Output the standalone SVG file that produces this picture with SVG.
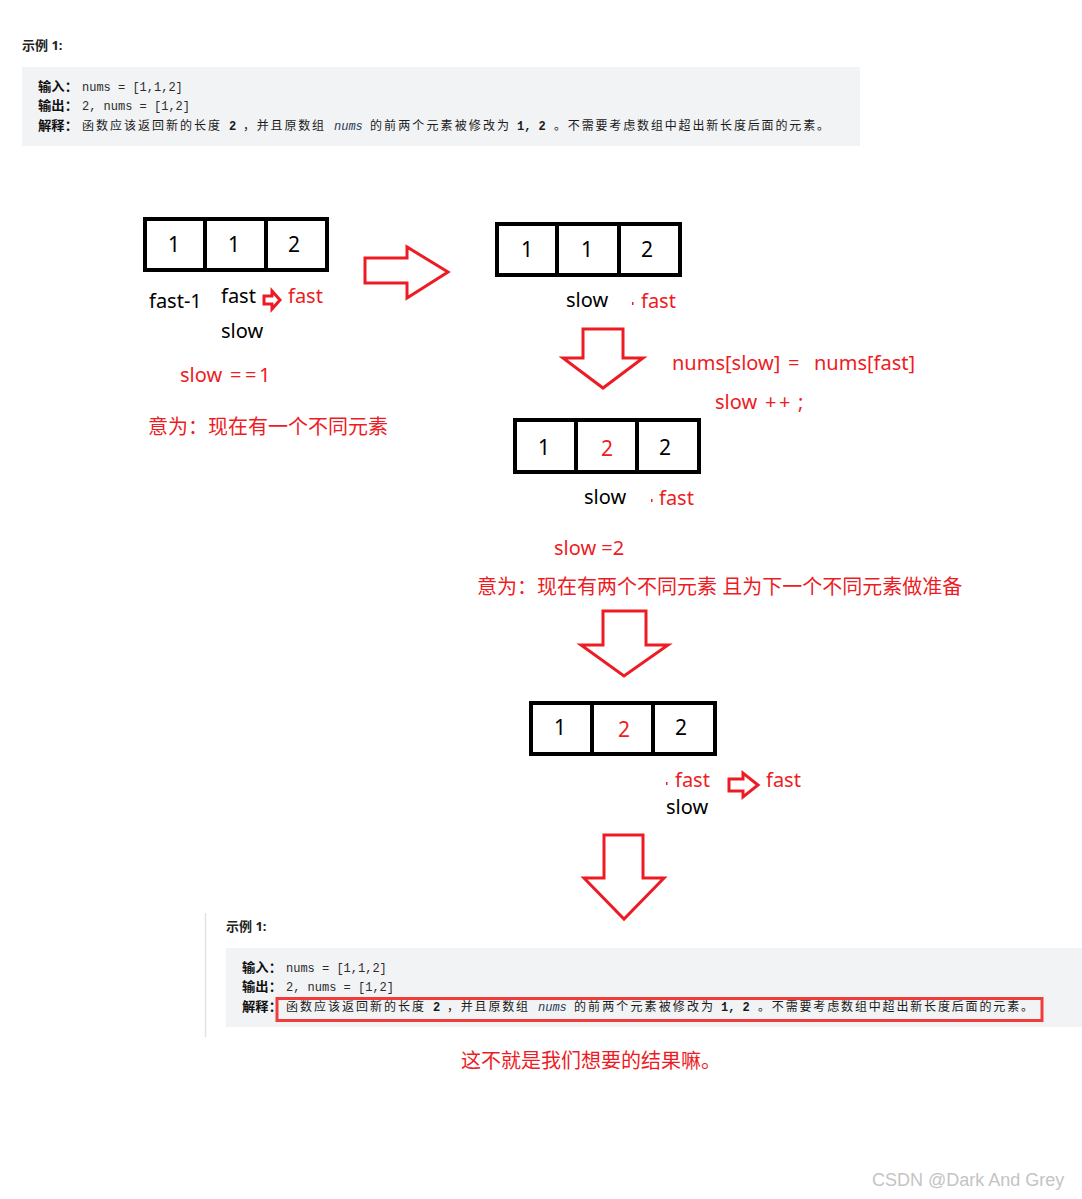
<svg xmlns="http://www.w3.org/2000/svg" width="1082" height="1199" viewBox="0 0 1082 1199">
<style>
.bg{fill:#ffffff}
.box{fill:#f2f3f5}
.hd{font-family:"Noto Sans","Noto Sans CJK SC",sans-serif;font-size:13px;font-weight:bold;fill:#222}
.lb{font-family:"Noto Sans CJK SC",sans-serif;font-size:13px;font-weight:bold;fill:#111}
.cj{font-family:"Noto Sans CJK SC",sans-serif;font-size:12px;fill:#1a1a1a}
.mo{font-family:"Liberation Mono","DejaVu Sans Mono",monospace;font-size:12px;fill:#2b2b2b}
.it{font-family:"Liberation Mono","DejaVu Sans Mono",monospace;font-size:12px;font-style:italic;fill:#263a5a}
.mb{font-family:"Liberation Mono","DejaVu Sans Mono",monospace;font-size:12px;font-weight:bold;fill:#1a1a1a}
.cell{fill:#ffffff;stroke:#000;stroke-width:4}
.div{stroke:#000;stroke-width:4}
.n{font-family:"Noto Sans",sans-serif;font-size:21px;fill:#000;text-anchor:middle}
.nr{font-family:"Noto Sans",sans-serif;font-size:21px;fill:#ed1c24;text-anchor:middle}
.t{font-family:"Noto Sans","Noto Sans CJK SC",sans-serif;font-size:20px;fill:#000}
.r{font-family:"Noto Sans","Noto Sans CJK SC",sans-serif;font-size:20px;fill:#ed1c24}
.arr{fill:#ffffff;stroke:#ed1c24;stroke-width:3;stroke-linejoin:miter}
.hl{fill:none;stroke:#f23c3c;stroke-width:3}
.wm{font-family:"Liberation Sans",Arial,sans-serif;font-size:18px;fill:#c4c4c4}
</style>
<defs>
<g id="example">
<text class="hd" x="0" y="0">示例 1:</text>
<text class="lb" x="16" y="41" textLength="40" lengthAdjust="spacingAndGlyphs">输入：</text>
<text class="mo" x="60" y="41">nums = [1,1,2]</text>
<text class="lb" x="16" y="60" textLength="40" lengthAdjust="spacingAndGlyphs">输出：</text>
<text class="mo" x="60" y="60">2, nums = [1,2]</text>
<text class="lb" x="16" y="80" textLength="40" lengthAdjust="spacingAndGlyphs">解释：</text>
<text class="cj" x="60" y="80" textLength="138" lengthAdjust="spacing">函数应该返回新的长度</text>
<text class="mb" x="207" y="80">2</text>
<text class="cj" x="221" y="80" textLength="81" lengthAdjust="spacing">，并且原数组</text>
<text class="it" x="312" y="80">nums</text>
<text class="cj" x="348" y="80" textLength="139" lengthAdjust="spacing">的前两个元素被修改为</text>
<text class="mb" x="495" y="80">1, 2</text>
<text class="cj" x="532" y="80" textLength="275" lengthAdjust="spacing">。不需要考虑数组中超出新长度后面的元素。</text>
</g>
</defs>
<rect class="bg" x="0" y="0" width="1082" height="1199"/>

<g id="example-top">
<rect class="box" x="22" y="67" width="838" height="79"/>
<use href="#example" x="22" y="50"/>
</g>

<g id="array-1">
<rect class="cell" x="145" y="219" width="182" height="51"/>
<line class="div" x1="205" y1="219" x2="205" y2="270"/>
<line class="div" x1="266" y1="219" x2="266" y2="270"/>
<text class="n" x="174" y="252">1</text>
<text class="n" x="234" y="252">1</text>
<text class="n" x="294" y="252">2</text>
</g>
<g id="labels-1">
<text class="t" x="149" y="308">fast-1</text>
<text class="t" x="221" y="303">fast</text>
<text class="r" x="288" y="303">fast</text>
<text class="t" x="221" y="338">slow</text>
<text class="r" x="180" y="382">slow <tspan x="230">=</tspan><tspan x="245">=</tspan><tspan x="259">1</tspan></text>
<text class="r" x="148" y="434">意为：现在有一个不同元素</text>
</g>

<g id="array-2">
<rect class="cell" x="497" y="224" width="183" height="51"/>
<line class="div" x1="557" y1="224" x2="557" y2="275"/>
<line class="div" x1="619" y1="224" x2="619" y2="275"/>
<text class="n" x="527" y="257">1</text>
<text class="n" x="587" y="257">1</text>
<text class="n" x="647" y="257">2</text>
</g>
<g id="labels-2">
<text class="t" x="566" y="307">slow</text>
<rect x="632" y="302" width="1.5" height="3" fill="#ed1c24"/>
<text class="r" x="641" y="308">fast</text>
<text class="r" x="672" y="370">nums[slow]</text>
<text class="r" x="788" y="370">=</text>
<text class="r" x="814" y="370">nums[fast]</text>
<text class="r" x="715" y="409">slow</text>
<text class="r" x="765" y="409">+</text>
<text class="r" x="779" y="409">+</text>
<text class="r" x="798" y="409">;</text>
</g>

<g id="array-3">
<rect class="cell" x="515" y="420" width="184" height="52"/>
<line class="div" x1="576" y1="420" x2="576" y2="472"/>
<line class="div" x1="637" y1="420" x2="637" y2="472"/>
<text class="n" x="544" y="455">1</text>
<text class="nr" x="607" y="456">2</text>
<text class="n" x="665" y="455">2</text>
</g>
<g id="labels-3">
<text class="t" x="584" y="504">slow</text>
<rect x="651" y="499" width="1.5" height="3" fill="#ed1c24"/>
<text class="r" x="659" y="505">fast</text>
<text class="r" x="554" y="555">slow =2</text>
<text class="r" x="477" y="594">意为：现在有两个不同元素 且为下一个不同元素做准备</text>
</g>

<g id="array-4">
<rect class="cell" x="531" y="703" width="184" height="51"/>
<line class="div" x1="592" y1="703" x2="592" y2="754"/>
<line class="div" x1="653" y1="703" x2="653" y2="754"/>
<text class="n" x="560" y="735">1</text>
<text class="nr" x="624" y="737">2</text>
<text class="n" x="681" y="735">2</text>
</g>
<g id="labels-4">
<rect x="666" y="782" width="1.5" height="3" fill="#ed1c24"/>
<text class="r" x="675" y="787">fast</text>
<text class="r" x="766" y="787">fast</text>
<text class="t" x="666" y="814">slow</text>
</g>

<g id="connectors">
<polygon class="arr" points="365,258 407,258 407,247 448,272 407,298 407,283 365,283"/>
<polygon class="arr" stroke-width="3.5" points="264,296 272,296 272,291 280,300 272,309 272,304 264,304"/>
<polygon class="arr" points="583,329 623,329 623,358 643,358 603,388 563,358 583,358"/>
<polygon class="arr" points="603,611 646,611 646,645 668,645 624,676 581,645 603,645"/>
<polygon class="arr" points="729,779 743,779 743,773 758,785 743,797 743,791 729,791"/>
<polygon class="arr" points="604,835 643,835 643,878 664,878 624,919 584,878 604,878"/>
</g>

<g id="example-bottom">
<line x1="205.5" y1="913" x2="205.5" y2="1037" stroke="#e3e3e3" stroke-width="1.5"/>
<rect class="box" x="226" y="948" width="856" height="79"/>
<use href="#example" x="226" y="931"/>
<rect class="hl" x="277" y="998.5" width="765" height="22"/>
</g>

<g id="conclusion">
<text class="r" x="461" y="1068" font-size="19.5">这不就是我们想要的结果嘛。</text>
</g>

<text class="wm" x="872" y="1186">CSDN @Dark And Grey</text>
</svg>
